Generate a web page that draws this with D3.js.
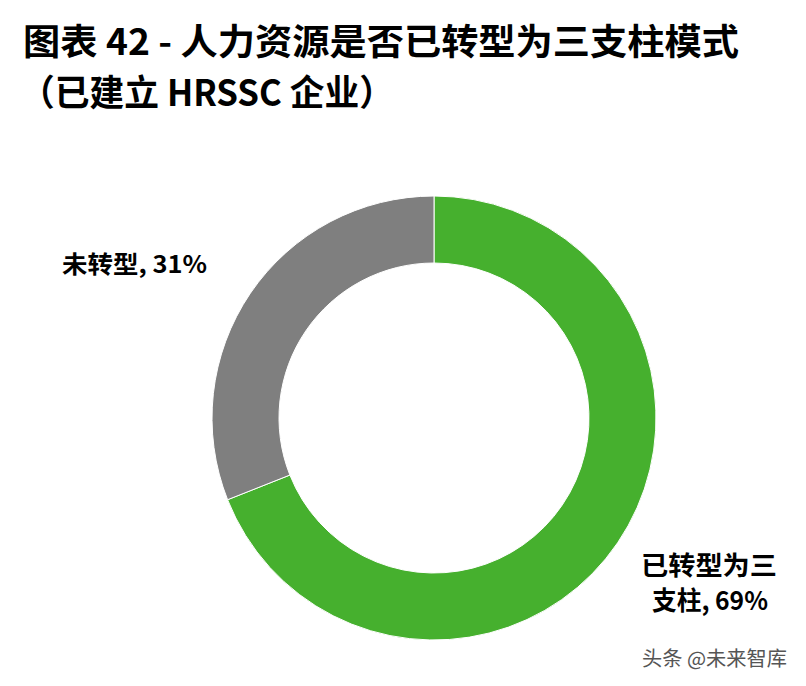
<!DOCTYPE html>
<html><head><meta charset="utf-8">
<script src="https://cdn.jsdelivr.net/npm/d3@7/dist/d3.min.js"></script>
<style>body{margin:0;background:#fff}svg{display:block}</style>
</head><body>
<svg id="chart" width="806" height="686"></svg>
<script>
const categories = ["已转型为三支柱", "未转型"];
const values = [69, 31];
const colors = ["#46B02E", "#7F7F7F"];
const titleLines = ["图表 42 - 人力资源是否已转型为三支柱模式", "（已建立 HRSSC 企业）"];
const source = "头条 @未来智库";

const svg = d3.select("#chart");
const font = "'Noto Sans CJK SC', 'Noto Sans', sans-serif";

svg.append("text").attr("x", 23).attr("y", 55).attr("font-family", font).attr("font-weight", "bold")
  .attr("font-size", 36).attr("textLength", 716).attr("lengthAdjust", "spacingAndGlyphs").attr("fill", "#000").text(titleLines[0]);
svg.append("text").attr("x", 20).attr("y", 106).attr("font-family", font).attr("font-weight", "bold")
  .attr("font-size", 36).attr("textLength", 374).attr("lengthAdjust", "spacingAndGlyphs").attr("fill", "#000").text(titleLines[1]);

const cx = 434, cy = 418, rOuter = 222, rInner = 155;
const pie = d3.pie().sort(null).value(d => d)(values);
const arc = d3.arc().innerRadius(rInner).outerRadius(rOuter);
const g = svg.append("g").attr("transform", `translate(${cx},${cy})`);
g.selectAll("path").data(pie).join("path").attr("d", arc)
  .attr("fill", (d, i) => colors[i]).attr("stroke", "#fff").attr("stroke-width", 1);

const lab = (i) => `${categories[i]}, ${values[i]}%`;
svg.append("text").attr("x", 62).attr("y", 273).attr("font-family", font).attr("font-weight", "bold")
  .attr("font-size", 24).attr("textLength", 145).attr("lengthAdjust", "spacingAndGlyphs").attr("fill", "#000").text(lab(1));
const gl = lab(0);
const l1 = gl.slice(0, 5), l2 = gl.slice(5);
svg.append("text").attr("x", 641).attr("y", 575).attr("font-family", font).attr("font-weight", "bold")
  .attr("font-size", 26).attr("textLength", 136).attr("lengthAdjust", "spacingAndGlyphs").attr("fill", "#000").text(l1);
svg.append("text").attr("x", 652).attr("y", 610).attr("font-family", font).attr("font-weight", "bold")
  .attr("font-size", 26).attr("textLength", 116).attr("lengthAdjust", "spacingAndGlyphs").attr("fill", "#000").text(l2);

svg.append("text").attr("x", 642).attr("y", 666).attr("font-family", font)
  .attr("font-size", 20).attr("textLength", 145).attr("lengthAdjust", "spacingAndGlyphs").attr("fill", "#555").text(source);
</script>
</body></html>
